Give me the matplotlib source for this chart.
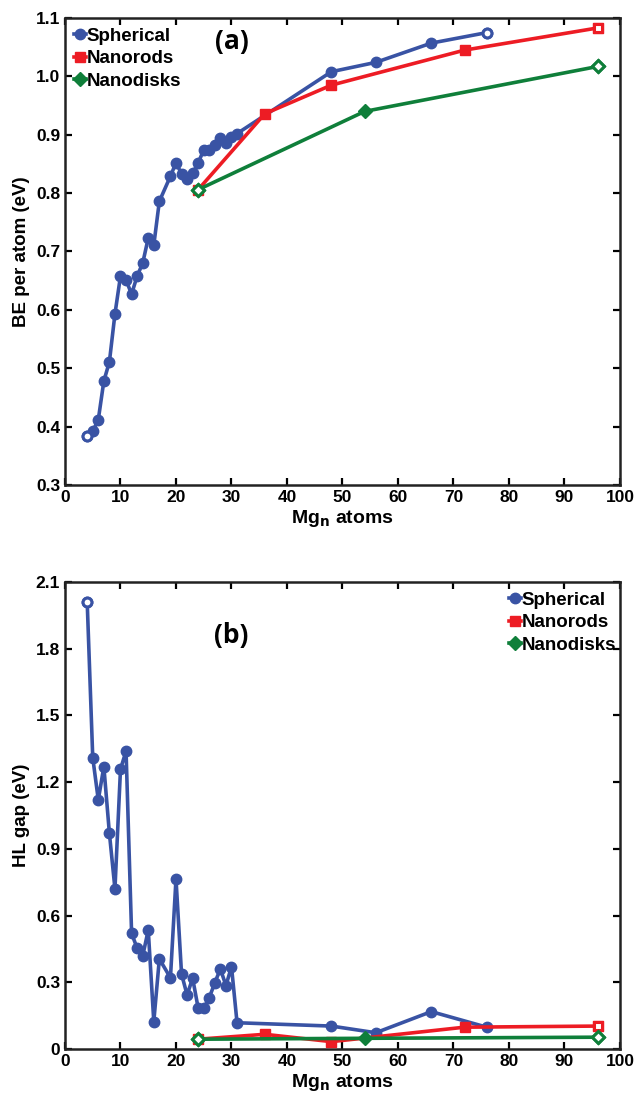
import numpy as np
import matplotlib.pyplot as plt

# ── data ─────────────────────────────────────────────────────────────────────
sph_n = [4, 5, 6, 7, 8, 9, 10, 11, 12, 13, 14, 15, 16, 17, 19, 20, 21, 22, 23,
         24, 25, 26, 27, 28, 29, 30, 31, 48, 56, 66, 76]
sph_be = [0.384, 0.392, 0.412, 0.478, 0.511, 0.593, 0.658, 0.651, 0.627, 0.658,
          0.680, 0.723, 0.711, 0.786, 0.829, 0.852, 0.833, 0.824, 0.834, 0.852,
          0.874, 0.874, 0.882, 0.894, 0.886, 0.896, 0.902, 1.008, 1.024, 1.057,
          1.075]
sph_hl = [2.01, 1.31, 1.12, 1.27, 0.97, 0.72, 1.258, 1.34, 0.52, 0.453, 0.418,
          0.535, 0.123, 0.405, 0.32, 0.765, 0.337, 0.243, 0.318, 0.183, 0.183,
          0.231, 0.298, 0.36, 0.285, 0.37, 0.118, 0.103, 0.073, 0.168, 0.098]

rod_n = [24, 36, 48, 72, 96]
rod_be = [0.806, 0.936, 0.985, 1.045, 1.083]
rod_hl = [0.044, 0.066, 0.033, 0.098, 0.103]

disk_n = [24, 54, 96]
disk_be = [0.806, 0.940, 1.017]
disk_hl = [0.044, 0.048, 0.053]

BLUE = "#3953a4"
RED = "#ed1c24"
GREEN = "#0f7f3a"

plt.rcParams["font.family"] = ["Liberation Sans", "DejaVu Sans"]
plt.rcParams["font.weight"] = "bold"


def draw_series(ax, x, y, color, marker, ms, label, open_idx):
    ax.plot(x, y, color=color, lw=2.6, marker=marker, ms=ms, mfc=color,
            mec=color, label=label, zorder=3)
    # hollow end markers
    xs = [x[i] for i in open_idx]
    ys = [y[i] for i in open_idx]
    ax.plot(xs, ys, ls="none", marker=marker, ms=ms * 0.85, mfc="white",
            mec=color, mew=2.2, zorder=4)


def style_axes(ax, ylim, yticks, ylabel):
    ax.set_xlim(0, 100)
    ax.set_xticks(np.arange(0, 101, 10))
    ax.set_ylim(*ylim)
    ax.set_yticks(yticks)
    ax.tick_params(direction="in", top=True, right=True, length=5, width=1.6,
                   labelsize=12.5)
    for lab in ax.get_xticklabels() + ax.get_yticklabels():
        lab.set_fontweight("bold")
    for sp in ax.spines.values():
        sp.set_linewidth(1.8)
        sp.set_color("#222222")
    ax.set_xlabel(r"Mg$_\mathbf{n}$ atoms", fontsize=14, fontweight="bold",
                  labelpad=2)
    ax.set_ylabel(ylabel, fontsize=13.5, fontweight="bold")


fig = plt.figure(figsize=(6.36, 11.05), dpi=100)
ax1 = fig.add_axes([0.1022, 0.5611, 0.8726, 0.4226])
ax2 = fig.add_axes([0.1022, 0.0507, 0.8726, 0.4226])

leg_kw = dict(frameon=False, fontsize=13.5, handlelength=0.6, handletextpad=0.05,
              borderaxespad=0.25, labelspacing=0.3, borderpad=0.25)

# (a) binding energy
draw_series(ax1, sph_n, sph_be, BLUE, "o", 7.5, "Spherical", [0, len(sph_n) - 1])
draw_series(ax1, rod_n, rod_be, RED, "s", 6.5, "Nanorods", [len(rod_n) - 1])
draw_series(ax1, disk_n, disk_be, GREEN, "D", 7, "Nanodisks", [0, len(disk_n) - 1])
style_axes(ax1, (0.3, 1.1), np.arange(0.3, 1.101, 0.1), "BE per atom (eV)")
ax1.yaxis.set_major_formatter(plt.FormatStrFormatter("%.1f"))
ax1.text(30, 1.06, "(a)", fontsize=19, fontweight="bold", ha="center",
         va="center", family=["Open Sans", "DejaVu Sans"])
ax1.legend(loc="upper left", **leg_kw)

# (b) HOMO-LUMO gap
draw_series(ax2, sph_n, sph_hl, BLUE, "o", 7.5, "Spherical", [0])
draw_series(ax2, rod_n, rod_hl, RED, "s", 6.5, "Nanorods", [len(rod_n) - 1])
draw_series(ax2, disk_n, disk_hl, GREEN, "D", 7, "Nanodisks", [0, len(disk_n) - 1])
style_axes(ax2, (0, 2.1), np.arange(0, 2.101, 0.3), "HL gap (eV)")
ax2.yaxis.set_major_formatter(plt.FuncFormatter(
    lambda v, p: "0" if abs(v) < 1e-9 else f"{v:.1f}"))
ax2.text(30, 1.86, "(b)", fontsize=19, fontweight="bold", ha="center",
         va="center", family=["Open Sans", "DejaVu Sans"])
ax2.legend(loc="upper right", bbox_to_anchor=(1.01, 1.0), **leg_kw)

fig.savefig("out.png", dpi=100)
